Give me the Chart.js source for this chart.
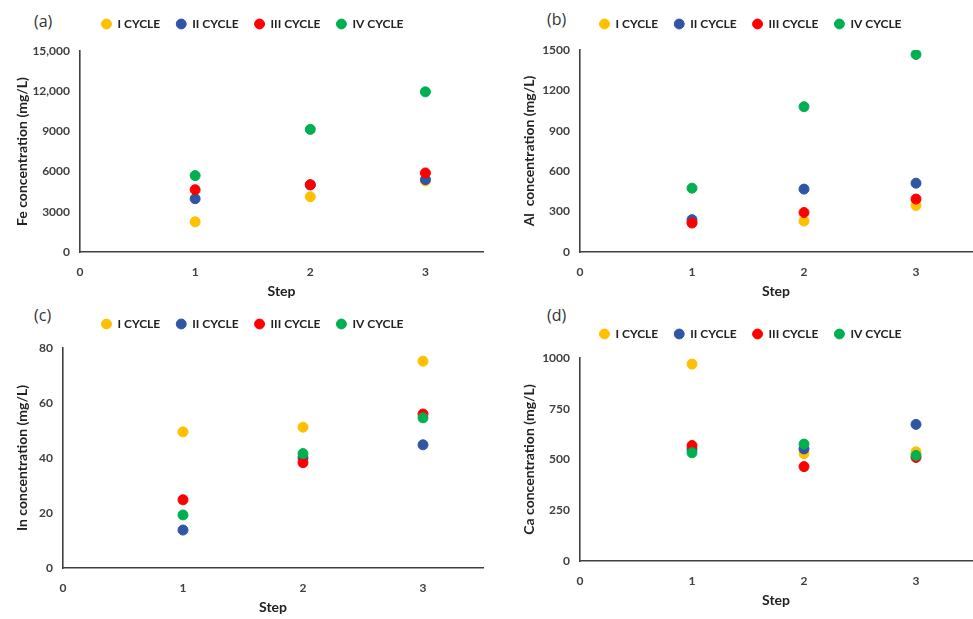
<!DOCTYPE html>
<html>
<head>
<meta charset="utf-8">
<script src="https://cdn.jsdelivr.net/npm/chart.js@4.4.1/dist/chart.umd.min.js"></script>
<style>
  html, body { margin: 0; padding: 0; background: #fff; }
  body { position: relative; width: 973px; height: 619px; overflow: hidden; }
  canvas { position: absolute; }
  .tag { position: absolute; font: 16px "Open Sans", sans-serif; color: #333; }
</style>
</head>
<body>
<div class="tag" style="left:34px;top:10px">(a)</div>
<div class="tag" style="left:547px;top:8px">(b)</div>
<div class="tag" style="left:34px;top:304px">(c)</div>
<div class="tag" style="left:547px;top:304px">(d)</div>
<canvas id="chartA" width="500" height="305" style="left:3px;top:0px"></canvas>
<canvas id="chartB" width="500" height="305" style="left:501px;top:0px"></canvas>
<canvas id="chartC" width="500" height="320" style="left:3px;top:300px"></canvas>
<canvas id="chartD" width="500" height="313" style="left:501px;top:300px"></canvas>
<script>
// x = step number for every series
const steps = [1, 2, 3];
const cycleLabels = ["I CYCLE", "II CYCLE", "III CYCLE", "IV CYCLE"];
const cycleColors = ["#FFC000", "#2F55A4", "#FF0000", "#00B050"];

// Fe (mg/L)
const feI = [2250, 4125, 5300];
const feII = [3975, 5000, 5400];
const feIII = [4650, 5025, 5900];
const feIV = [5700, 9150, 11950];

// Al (mg/L)
const alI = [220, 230, 345];
const alII = [240, 467, 511];
const alIII = [215, 293, 393];
const alIV = [474, 1079, 1467];

// In (mg/L)
const inI = [49.5, 51.2, 75.2];
const inII = [13.8, 40, 44.8];
const inIII = [24.8, 38.3, 56];
const inIV = [19.3, 41.6, 54.6];

// Ca (mg/L)
const caI = [970, 529, 538];
const caII = [550, 552, 673];
const caIII = [569, 465, 510];
const caIV = [533, 576, 520];

const FONT = "Lato, 'Open Sans', sans-serif";
const INK = "#404040";

// extra room under the legend, and nudge it sideways
function legendTweak(gap, dx) {
  return {
    id: "legendTweak",
    beforeInit(chart) {
      const fit = chart.legend.fit;
      chart.legend.fit = function () {
        fit.bind(chart.legend)();
        this.height += gap;
      };
    },
    afterLayout(chart) {
      chart.legend.left += dx;
      chart.legend.right += dx;
    },
  };
}

function makeChart(id, series, yTitle, yMax, yStep, pad, yWidth, gap) {
  const datasets = series.map((vals, i) => ({
    label: cycleLabels[i],
    data: vals.map((v, j) => ({ x: steps[j], y: v })),
    backgroundColor: cycleColors[i],
    borderColor: cycleColors[i],
    pointRadius: 5,
    pointHoverRadius: 5,
    order: series.length - i, // later cycle drawn on top, like Excel
  }));

  return new Chart(document.getElementById(id), {
    type: "scatter",
    data: { datasets: datasets },
    plugins: [legendTweak(gap, 6)],
    options: {
      responsive: false,
      animation: false,
      layout: { padding: pad },
      plugins: {
        tooltip: { enabled: false },
        legend: {
          position: "top",
          labels: {
            usePointStyle: true,
            pointStyle: "circle",
            boxWidth: 10,
            boxHeight: 7,
            padding: 16,
            color: "#222",
            font: { family: FONT, size: 12, weight: "bold" },
            sort: (a, b) => a.datasetIndex - b.datasetIndex,
          },
        },
      },
      scales: {
        x: {
          type: "linear",
          min: 0,
          max: 3.5,
          grid: { display: false, drawTicks: false },
          border: { display: true, color: INK, width: 1.6 },
          afterFit: (s) => { s.height = 52; },
          ticks: {
            stepSize: 1,
            padding: 13,
            color: INK,
            font: { family: FONT, size: 12, weight: "bold" },
            callback: (v) => (Number.isInteger(v) ? v : ""),
          },
          title: {
            display: true,
            text: "Step",
            color: "#222",
            padding: { top: 4, bottom: 4 },
            font: { family: FONT, size: 14, weight: "bold" },
          },
        },
        y: {
          min: 0,
          max: yMax,
          grid: { display: false, drawTicks: false },
          border: { display: true, color: INK, width: 1.6 },
          afterFit: (s) => { s.width = yWidth; },
          ticks: {
            stepSize: yStep,
            padding: 10,
            color: INK,
            font: { family: FONT, size: 12, weight: "bold" },
            callback: (v) => (v >= 10000 ? v.toLocaleString("en-US") : v),
          },
          title: {
            display: true,
            text: yTitle,
            color: "#222",
            font: { family: FONT, size: 14, weight: "bold" },
          },
        },
      },
    },
  });
}

makeChart("chartA", [feI, feII, feIII, feIV], "Fe concentration (mg/L)",
  15000, 3000, { left: 7, right: 20, top: 2, bottom: 1 }, 70, 11);
makeChart("chartB", [alI, alII, alIII, alIV], "Al  concentration (mg/L)",
  1500, 300, { left: 16, right: 29, top: 2, bottom: 1 }, 63, 10);
makeChart("chartC", [inI, inII, inIII, inIV], "In concentration (mg/L)",
  80, 20, { left: 7, right: 20, top: 2, bottom: 0 }, 53, 8);
makeChart("chartD", [caI, caII, caIII, caIV], "Ca concentration (mg/L)",
  1000, 250, { left: 16, right: 29, top: 12, bottom: 0 }, 63, 8);
</script>
</body>
</html>
